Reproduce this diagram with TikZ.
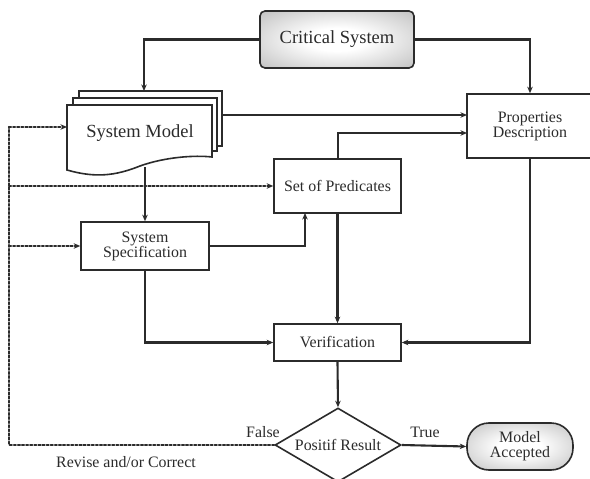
\documentclass[tikz,border=0pt]{standalone}
\usepackage{fontspec}
\setmainfont{Liberation Serif}
\usetikzlibrary{shapes.geometric,arrows.meta,calc}
\definecolor{ink}{HTML}{2B2B2B}
\definecolor{shadeedge}{HTML}{B2B2B2}
% white centre fading to grey towards the border
\pgfdeclareradialshading{softglow}{\pgfpoint{0bp}{0bp}}{%
  color(0bp)=(white); color(10bp)=(white); color(42bp)=(shadeedge);
  color(72bp)=(shadeedge!80!black)}
\tikzset{
  conn/.style={draw=ink, line width=2.1pt, -{Stealth[length=6.5pt,width=5.5pt]}},
  fb/.style={draw=ink, line width=2.1pt, dotted, line cap=round},
  fbarrow/.style={fb, -{Stealth[length=6.5pt,width=5.5pt]}},
  boxed/.style={draw=ink, line width=1.6pt, fill=white, rectangle, inner sep=0pt,
    align=center, text=ink, font=\fontsize{15.9}{15}\selectfont},
  glow/.style={shading=softglow},
  doclayer/.style={draw=ink, line width=1.6pt, fill=white},
  lbl/.style={text=ink, font=\fontsize{15.9}{15}\selectfont, inner sep=0pt},
}
\begin{document}
\begin{tikzpicture}[x=1pt, y=-1pt]
\useasboundingbox (0,0) rectangle (590,479);

% terminal boxes with a soft grey radial fill
\node[boxed, glow, rounded corners=5pt,
      minimum width=154pt, minimum height=57pt, font=\fontsize{18.5}{18}\selectfont]
      (crit) at (337,39.5) {Critical System};
\node[boxed, glow, rounded corners=22pt,
      minimum width=106pt, minimum height=47pt]
      (accepted) at (520,446.5) {Model\\Accepted};

% stacked document shape
\draw[doclayer] (79,91) rectangle (222,146);
\draw[doclayer] (73,98) rectangle (217,151);
\draw[doclayer] (67,105) -- (212,105) -- (212,157)
   .. controls (195,155) and (165,157) .. (140,166)
   .. controls (115,176) and (95,178) .. (67,170) -- cycle;
\node[lbl, font=\fontsize{18.5}{18}\selectfont] (model) at (140,133) {System Model};
\coordinate (modeltop) at (144,91);
\coordinate (modelright) at (222,115);
\coordinate (modelleft) at (67,127);
\coordinate (modelbot) at (145,167);

% process boxes
\node[boxed, minimum width=126pt, minimum height=64pt] (props) at (530,126) {Properties\\Description};
\node[boxed, minimum width=127pt, minimum height=54pt] (preds) at (337.5,186) {Set of Predicates};
\node[boxed, minimum width=128pt, minimum height=48pt] (spec) at (145,246) {System\\Specification};
\node[boxed, minimum width=127pt, minimum height=37pt] (verif) at (337.5,342.5) {Verification};

% decision
\node[draw=ink, line width=1.6pt, fill=white, diamond, aspect=1.7, inner sep=0pt,
      minimum width=126pt, minimum height=74pt, text=ink, font=\fontsize{15.9}{15}\selectfont]
      (dec) at (338,445) {Positif Result};

% entry points on the boxes
\coordinate (propsin1) at (467,115);
\coordinate (propsin2) at (467,133);
\coordinate (predsin) at (305,213);
\coordinate (predsout) at (338,159);

% main flow
\draw[conn] (crit.west) -| (modeltop);
\draw[conn] (crit.east) -| (props.north);
\draw[conn] (modelright) -- (propsin1);
\draw[conn] (predsout) |- (propsin2);
\draw[conn] (modelbot) -- (spec.north);
\draw[conn] (spec.east) -| (predsin);
\draw[conn] (preds.south) -- (verif.north);
\draw[conn] (spec.south) |- (verif.west);
\draw[conn] (props.south) |- (verif.east);
\draw[conn] (verif.south) -- (dec.north);
\draw[conn] (dec.east) -- (accepted.west);

% feedback loop
\coordinate (fbcorner) at (9,445);
\coordinate (fbtop) at (9,127);
\draw[fb] (dec.west) -- (fbcorner) -- (fbtop);
\draw[fbarrow] (fbtop) -- (modelleft);
\draw[fbarrow] (9,186) -- (preds.west);
\draw[fbarrow] (9,246) -- (spec.west);

% labels
\node[lbl] (ltrue) at (425,432) {True};
\node[lbl] (lfalse) at (263,432) {False};
\node[lbl] (lrevise) at (126,462) {Revise and/or Correct};
\end{tikzpicture}
\end{document}
